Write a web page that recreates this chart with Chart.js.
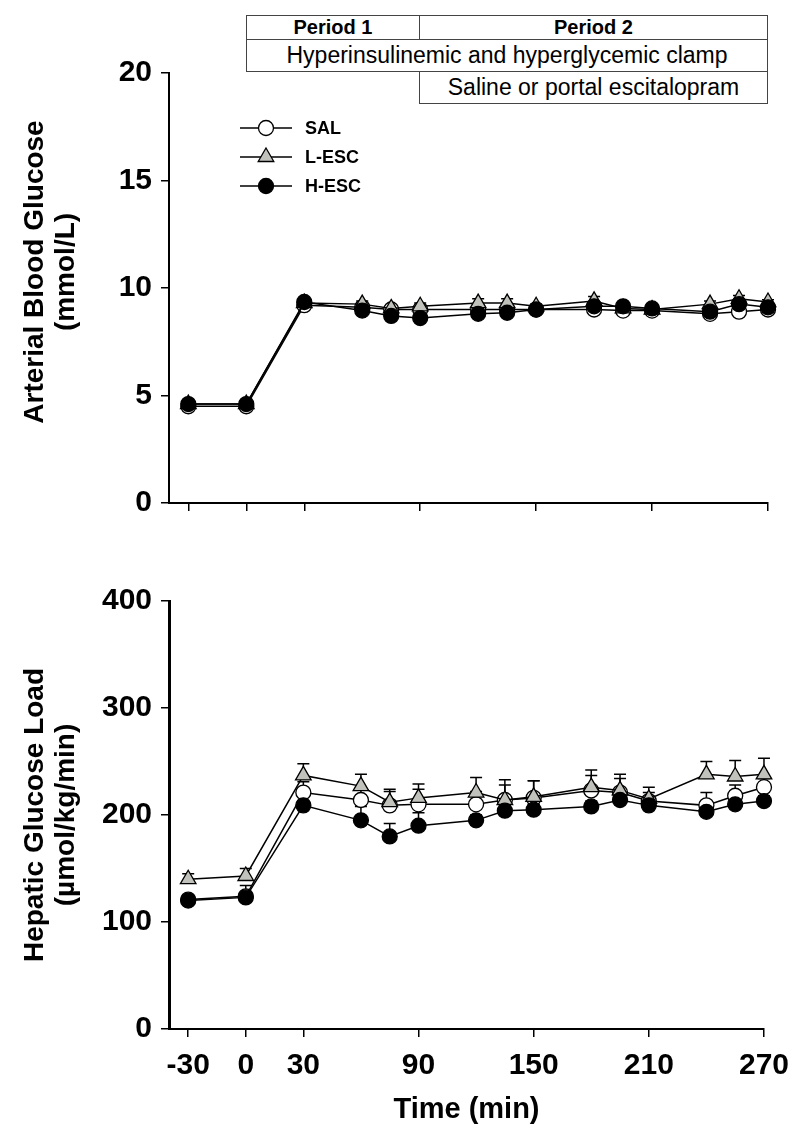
<!DOCTYPE html>
<html>
<head>
<meta charset="utf-8">
<script src="https://cdn.jsdelivr.net/npm/chart.js@4.4.1/dist/chart.umd.min.js"></script>
<style>
  body { margin: 0; background: #fff; width: 800px; height: 1136px; position: relative; overflow: hidden; }
  .box { position: absolute; border: 1px solid #444; box-sizing: border-box; text-align: center; color: #000;
         font-family: 'Liberation Sans', Arial, sans-serif; white-space: nowrap; }
  .hdr { font-weight: bold; font-size: 20px; line-height: 23px; }
  .row { font-size: 23px; line-height: 31px; }
  canvas { position: absolute; left: 0; }
</style>
</head>
<body>
<div class="box hdr" style="left:246px; top:15px; width:174px; height:25px;">Period 1</div>
<div class="box hdr" style="left:419px; top:15px; width:349px; height:25px;">Period 2</div>
<div class="box row" style="left:246px; top:39px; width:522px; height:33px;">Hyperinsulinemic and hyperglycemic clamp</div>
<div class="box row" style="left:419px; top:71px; width:349px; height:33px;">Saline or portal escitalopram</div>

<canvas id="c1" width="800" height="540" style="top:0"></canvas>
<canvas id="c2" width="800" height="576" style="top:560px"></canvas>

<script>
const times = [-30, 0, 30, 60, 75, 90, 120, 135, 150, 180, 195, 210, 240, 255, 270];
const xTicks = [-30, 0, 30, 90, 150, 210, 270];
const groups = ['SAL', 'L-ESC', 'H-ESC'];

// Arterial blood glucose (mmol/L)
const glucSAL = [4.5, 4.5, 9.2, 9.1, 9.0, 9.0, 9.0, 9.0, 9.0, 9.0, 8.95, 8.95, 8.8, 8.9, 9.0];
const glucLESC = [4.6, 4.6, 9.3, 9.25, 9.05, 9.15, 9.3, 9.3, 9.15, 9.4, 9.05, 9.0, 9.25, 9.5, 9.35];
const glucHESC = [4.6, 4.6, 9.35, 8.95, 8.7, 8.6, 8.8, 8.85, 9.0, 9.15, 9.15, 9.05, 8.9, 9.25, 9.1];
const glucSALerr = [0.1, 0.1, 0.1, 0.1, 0.1, 0.1, 0.1, 0.1, 0.1, 0.1, 0.1, 0.1, 0.1, 0.1, 0.1];
const glucLESCerr = [0.1, 0.1, 0.1, 0.15, 0.15, 0.15, 0.2, 0.2, 0.1, 0.2, 0.1, 0.1, 0.15, 0.15, 0.1];
const glucHESCerr = [0.1, 0.1, 0.1, 0.1, 0.1, 0.1, 0.1, 0.1, 0.1, 0.1, 0.1, 0.1, 0.1, 0.1, 0.1];

// Hepatic glucose load (umol/kg/min)
const hglSAL = [121, 124, 221, 214, 209, 210, 210, 214, 216, 223, 221, 213, 209, 218, 226];
const hglLESC = [140, 143, 237, 227, 212, 216, 221, 214, 217, 226, 223, 215, 238, 236, 238];
const hglHESC = [120, 123, 209, 195, 180, 190, 195, 204, 205, 208, 214, 209, 203, 210, 213];
const hglSALerr = [4, 10, 10, 12, 13, 14, 12, 14, 16, 14, 13, 8, 12, 10, 8];
const hglLESCerr = [5, 7, 11, 11, 12, 13, 14, 19, 15, 16, 15, 11, 12, 15, 15];
const hglHESCerr = [3, 4, 4, 13, 12, 12, 5, 5, 5, 5, 5, 5, 5, 5, 5];

const FONT = "'Liberation Sans', Arial, sans-serif";

const styles = [
  { pointStyle: 'circle', fill: '#ffffff', radius: 7.5, order: 3 },
  { pointStyle: 'triangle', fill: '#c2c2bc', radius: 9, order: 2 },
  { pointStyle: 'circle', fill: '#000000', radius: 7.5, order: 1 }
];

function makeDatasets(series, errs) {
  return series.map((vals, i) => ({
    label: groups[i],
    data: times.map((t, j) => ({ x: t, y: vals[j] })),
    errors: errs[i],
    borderColor: '#000',
    borderWidth: 1.5,
    pointStyle: styles[i].pointStyle,
    pointRadius: styles[i].radius,
    pointBackgroundColor: styles[i].fill,
    pointBorderColor: '#000',
    pointBorderWidth: 1.3,
    order: styles[i].order,
    clip: false,
    tension: 0
  }));
}

// upward SEM bars, drawn under the markers
const errorBars = {
  id: 'errorBars',
  beforeDatasetsDraw(chart) {
    const ctx = chart.ctx;
    const xs = chart.scales.x, ys = chart.scales.y;
    ctx.save();
    ctx.strokeStyle = '#000';
    ctx.lineWidth = 1.5;
    chart.data.datasets.forEach(ds => {
      ds.data.forEach((p, j) => {
        const e = ds.errors[j];
        if (!e) return;
        const x = xs.getPixelForValue(p.x);
        const y0 = ys.getPixelForValue(p.y);
        const y1 = ys.getPixelForValue(p.y + e);
        ctx.beginPath();
        ctx.moveTo(x, y0); ctx.lineTo(x, y1);
        ctx.moveTo(x - 6, y1); ctx.lineTo(x + 6, y1);
        ctx.stroke();
      });
    });
    ctx.restore();
  }
};

// two-line rotated y title, a bit off the axis centre like the original
const yTitle = {
  id: 'yTitle',
  afterDraw(chart, args, opts) {
    const ctx = chart.ctx;
    const ys = chart.scales.y;
    const cy = (ys.top + ys.bottom) / 2 + opts.shift;
    ctx.save();
    ctx.fillStyle = '#000';
    ctx.font = 'bold 28px ' + FONT;
    ctx.textAlign = 'center';
    ctx.textBaseline = 'middle';
    opts.lines.forEach((t, i) => {
      ctx.save();
      ctx.translate(35 + i * 31, cy);
      ctx.rotate(-Math.PI / 2);
      ctx.fillText(t, 0, 0);
      ctx.restore();
    });
    ctx.restore();
  }
};

function drawMarker(ctx, st, x, y) {
  ctx.beginPath();
  if (st.pointStyle === 'triangle') {
    const r = st.radius;
    for (let k = 0; k < 3; k++) {
      const a = k * 2 * Math.PI / 3;
      ctx.lineTo(x + Math.sin(a) * r, y - Math.cos(a) * r);
    }
    ctx.closePath();
  } else {
    ctx.arc(x, y, st.radius, 0, Math.PI * 2);
  }
  ctx.fillStyle = st.fill;
  ctx.fill();
  ctx.lineWidth = 1.3;
  ctx.strokeStyle = '#000';
  ctx.stroke();
}

const insideLegend = {
  id: 'insideLegend',
  afterDraw(chart, args, opts) {
    if (!opts.show) return;
    const ctx = chart.ctx;
    ctx.save();
    groups.forEach((g, i) => {
      const y = 128 + i * 29;
      ctx.strokeStyle = '#000';
      ctx.lineWidth = 1.5;
      ctx.beginPath();
      ctx.moveTo(240, y); ctx.lineTo(292, y);
      ctx.stroke();
      drawMarker(ctx, styles[i], 266, y);
      ctx.fillStyle = '#000';
      ctx.font = 'bold 18px ' + FONT;
      ctx.textBaseline = 'middle';
      ctx.fillText(g, 305, y + 1);
    });
    ctx.restore();
  }
};

function xScale(showLabels, height) {
  return {
    type: 'linear',
    min: -40,
    max: 270,
    afterBuildTicks: s => { s.ticks = xTicks.map(v => ({ value: v })); },
    afterFit: s => { s.height = height; },
    grid: { drawOnChartArea: false, drawTicks: true, tickLength: 8, color: '#000', lineWidth: 1.5 },
    border: { display: true, color: '#000', width: 2 },
    ticks: { display: showLabels, color: '#000', padding: 11, maxRotation: 0, autoSkip: false,
             font: { family: FONT, size: 30, weight: 'bold' } },
    title: { display: showLabels, text: 'Time (min)', color: '#000', padding: { top: 0, bottom: 9 },
             font: { family: FONT, size: 29, weight: 'bold' } }
  };
}

function yScale(max, step, bw) {
  return {
    min: 0,
    max: max,
    afterFit: s => { s.width = 169; },
    grid: { drawOnChartArea: false, drawTicks: true, tickLength: 8, color: '#000', lineWidth: 1.5 },
    border: { display: true, color: '#000', width: bw },
    ticks: { stepSize: step, color: '#000', padding: 9,
             font: { family: FONT, size: 30, weight: 'bold' } }
  };
}

new Chart(document.getElementById('c1'), {
  type: 'line',
  data: { datasets: makeDatasets([glucSAL, glucLESC, glucHESC], [glucSALerr, glucLESCerr, glucHESCerr]) },
  options: {
    responsive: false,
    animation: false,
    layout: { padding: { top: 73, right: 32, bottom: 27, left: 0 } },
    scales: { x: xScale(false, 10), y: yScale(20, 5, 2) },
    plugins: {
      legend: { display: false }, tooltip: { enabled: false },
      insideLegend: { show: true },
      yTitle: { lines: ['Arterial Blood Glucose', '(mmol/L)'], shift: -16 }
    }
  },
  plugins: [errorBars, insideLegend, yTitle]
});

new Chart(document.getElementById('c2'), {
  type: 'line',
  data: { datasets: makeDatasets([hglSAL, hglLESC, hglHESC], [hglSALerr, hglLESCerr, hglHESCerr]) },
  options: {
    responsive: false,
    animation: false,
    layout: { padding: { top: 41, right: 32, bottom: 0, left: 0 } },
    scales: { x: xScale(true, 107), y: yScale(400, 100, 3) },
    plugins: {
      legend: { display: false }, tooltip: { enabled: false },
      insideLegend: { show: false },
      yTitle: { lines: ['Hepatic Glucose Load', '(\u00b5mol/kg/min)'], shift: 0 }
    }
  },
  plugins: [errorBars, insideLegend, yTitle]
});
</script>
</body>
</html>
